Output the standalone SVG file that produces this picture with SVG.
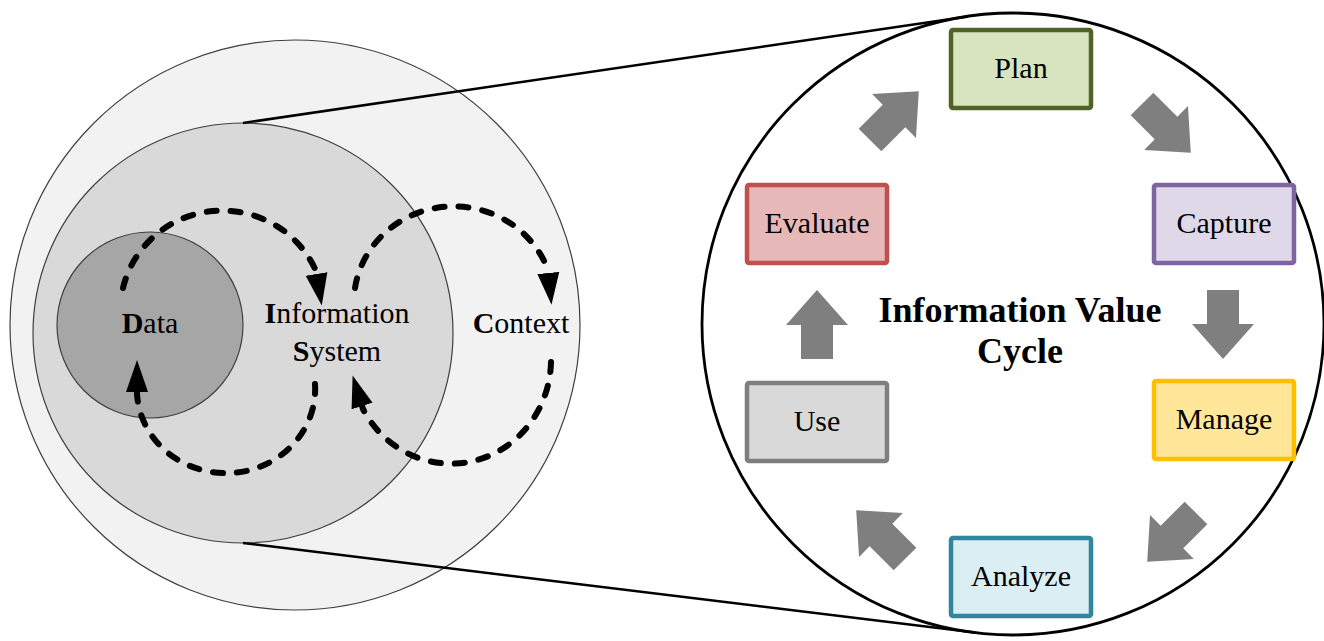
<svg xmlns="http://www.w3.org/2000/svg" xmlns:xlink="http://www.w3.org/1999/xlink" width="1324" height="641" viewBox="0 0 1324 641">
<style>
  .lbl { font-family: "Liberation Serif", "Times New Roman", serif; font-size: 30px; fill: #000; text-anchor: middle; }
  .title { font-family: "Liberation Serif", "Times New Roman", serif; font-size: 36px; font-weight: bold; fill: #000; text-anchor: middle; }
  .b { font-weight: bold; }
  .ring { stroke: #404040; stroke-width: 1.2; }
  .loop { fill: none; stroke: #000; stroke-width: 6; stroke-dasharray: 10 14; stroke-linecap: round; marker-end: url(#ah); }
  .zoomline { fill: none; stroke: #000; stroke-width: 2.5; }
  .box { stroke-width: 4.5; }
  .blk { fill: #7f7f7f; }
</style>
<defs>
  <marker id="ah" markerUnits="userSpaceOnUse" markerWidth="40" markerHeight="30" viewBox="0 -15 40 30" refX="0" refY="0" orient="auto">
    <path d="M0,-11 L32,0 L0,11 z" fill="#000"/>
  </marker>
  <path id="blkarrow" d="M0,-16 L34,-16 L34,-31 L69,0 L34,31 L34,16 L0,16 z"/>
</defs>
<rect width="1324" height="641" fill="#ffffff"/>

<g id="context">
  <circle class="ring" cx="295" cy="325" r="285" fill="#f2f2f2"/>
  <text class="lbl" x="521" y="333"><tspan class="b">C</tspan>ontext</text>
</g>
<g id="information-system">
  <circle class="ring" cx="243" cy="333" r="210" fill="#d9d9d9"/>
  <text class="lbl" x="337" y="323"><tspan class="b">I</tspan>nformation</text>
  <text class="lbl" x="337" y="361"><tspan class="b">S</tspan>ystem</text>
</g>
<g id="data">
  <circle class="ring" cx="150" cy="325" r="93" fill="#a6a6a6"/>
  <text class="lbl" x="150" y="333"><tspan class="b">D</tspan>ata</text>
</g>

<g id="cycle-circle">
  <circle cx="1013" cy="324" r="311" fill="#ffffff" stroke="#000" stroke-width="2.8"/>
  <text class="title" x="1020" y="322">Information Value</text>
  <text class="title" x="1020" y="363">Cycle</text>
</g>

<g id="plan">
  <rect class="box" x="951" y="30" width="140" height="78" rx="2" fill="#d7e4bd" stroke="#4f6228"/>
  <text class="lbl" x="1021" y="78">Plan</text>
</g>
<g id="capture">
  <rect class="box" x="1154" y="185" width="140" height="78" rx="2" fill="#dfd8e8" stroke="#8064a2"/>
  <text class="lbl" x="1224" y="233">Capture</text>
</g>
<g id="manage">
  <rect class="box" x="1154" y="381" width="140" height="78" rx="2" fill="#ffe699" stroke="#ffc000"/>
  <text class="lbl" x="1224" y="429">Manage</text>
</g>
<g id="analyze">
  <rect class="box" x="951" y="538" width="140" height="78" rx="2" fill="#dbeef4" stroke="#31859c"/>
  <text class="lbl" x="1021" y="586">Analyze</text>
</g>
<g id="use">
  <rect class="box" x="747" y="383" width="140" height="78" rx="2" fill="#d9d9d9" stroke="#7f7f7f"/>
  <text class="lbl" x="817" y="431">Use</text>
</g>
<g id="evaluate">
  <rect class="box" x="747" y="185" width="140" height="78" rx="2" fill="#e6b9b8" stroke="#c0504d"/>
  <text class="lbl" x="817" y="233">Evaluate</text>
</g>

<g id="connectors">
  <line class="zoomline" x1="243" y1="123" x2="968" y2="16.4"/>
  <line class="zoomline" x1="243" y1="543" x2="975" y2="632.6"/>
  <path class="loop" d="M123,288 A102,100 0 0 1 316,271 L316.5,274"/>
  <path class="loop" d="M315,384 A89,84 0 0 1 137,394 L137,392"/>
  <path class="loop" d="M355,288 A100,96 0 0 1 548,270 L548.3,273"/>
  <path class="loop" d="M551,362 A100,104 0 0 1 363,409 L362.1,406.1"/>
  <use class="blk" xlink:href="#blkarrow" transform="translate(870,140) rotate(-45)"/>
  <use class="blk" xlink:href="#blkarrow" transform="translate(1142,104) rotate(45)"/>
  <use class="blk" xlink:href="#blkarrow" transform="translate(1223,290) rotate(90)"/>
  <use class="blk" xlink:href="#blkarrow" transform="translate(1196,513) rotate(135)"/>
  <use class="blk" xlink:href="#blkarrow" transform="translate(905,559) rotate(-135)"/>
  <use class="blk" xlink:href="#blkarrow" transform="translate(817,359) rotate(-90)"/>
</g>
</svg>
